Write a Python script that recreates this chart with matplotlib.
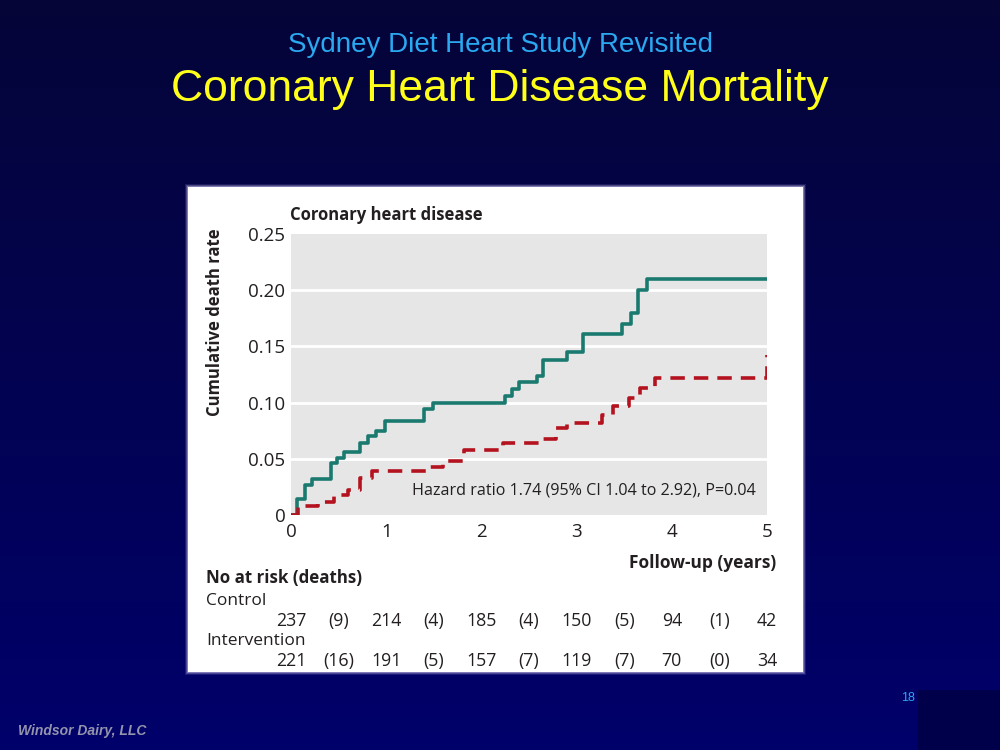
import numpy as np
import matplotlib.pyplot as plt
from matplotlib.patches import Rectangle
from matplotlib.transforms import blended_transform_factory

# data
ctrl_t = [0, 0.06, 0.15, 0.22, 0.42, 0.48, 0.56, 0.72, 0.81, 0.89, 0.99, 1.40, 1.49,
          2.25, 2.32, 2.40, 2.58, 2.65, 2.90, 3.07, 3.48, 3.57, 3.65, 3.74, 5.0]
ctrl_y = [0, 0.014, 0.027, 0.032, 0.046, 0.051, 0.056, 0.064, 0.070, 0.075, 0.084, 0.094, 0.100,
          0.106, 0.112, 0.118, 0.124, 0.138, 0.145, 0.161, 0.170, 0.180, 0.200, 0.210, 0.210]
int_t = [0, 0.07, 0.28, 0.45, 0.60, 0.72, 0.85, 1.45, 1.60, 1.82, 2.23, 2.64, 2.78, 2.90,
         3.27, 3.38, 3.55, 3.67, 3.82, 5.0, 5.0]
int_y = [0, 0.008, 0.012, 0.018, 0.022, 0.033, 0.039, 0.043, 0.048, 0.058, 0.064, 0.068, 0.077, 0.082,
         0.089, 0.097, 0.104, 0.113, 0.122, 0.122, 0.142]

yticks = [0, 0.05, 0.10, 0.15, 0.20, 0.25]
ytick_labels = ['0', '0.05', '0.10', '0.15', '0.20', '0.25']
xticks = [0, 1, 2, 3, 4, 5]

risk_x = [0, 0.5, 1, 1.5, 2, 2.5, 3, 3.5, 4, 4.5, 5]
control_row = ['237', '(9)', '214', '(4)', '185', '(4)', '150', '(5)', '94', '(1)', '42']
interv_row = ['221', '(16)', '191', '(5)', '157', '(7)', '119', '(7)', '70', '(0)', '34']

FONT = 'Open Sans'
TXT = '#231f20'

fig = plt.figure(figsize=(10, 7.5), dpi=100)

#### background in pixel coords
bg = fig.add_axes([0, 0, 1, 1])
bg.set_xlim(0, 1000)
bg.set_ylim(750, 0)
bg.axis('off')
grad = np.linspace(0, 1, 256).reshape(-1, 1)
top = np.array([0.02, 0.02, 0.22])
bot = np.array([0.0, 0.0, 0.42])
img = top + grad[..., None] * (bot - top)
img = np.repeat(img, 2, axis=1)
bg.imshow(img, extent=[0, 1000, 750, 0], aspect='auto', zorder=0)

# glow + white panel
for i, a in enumerate([0.15, 0.3, 0.5]):
    pad = 3 - i
    bg.add_patch(Rectangle((188 - pad, 187 - pad), 615 + 2 * pad, 485 + 2 * pad,
                           facecolor='#b8b0e0', alpha=a, edgecolor='none', zorder=1))
bg.add_patch(Rectangle((188, 187), 615, 485, facecolor='white', edgecolor='none', zorder=2))

# titles
bg.text(500, 45, 'Sydney Diet Heart Study Revisited', color='#2aa8f0', fontsize=20,
        family='Liberation Sans', ha='center', va='center', zorder=3)
bg.text(500, 90, 'Coronary Heart Disease Mortality', color='#ffff1a', fontsize=32,
        family='Liberation Sans', ha='center', va='center', zorder=3)

# footer
bg.text(18, 731, 'Windsor Dairy, LLC', color='#9494ac', fontsize=10, style='italic',
        weight='bold', family='Liberation Sans', ha='left', va='center', zorder=3)
bg.text(908, 698, '18', color='#2aa8f0', fontsize=9, family='Liberation Sans',
        ha='center', va='center', zorder=3)
bg.add_patch(Rectangle((918, 690), 82, 60, facecolor='#00004a', edgecolor='none', zorder=3))

#### main plot
ax = fig.add_axes([0.291, 1 - 515 / 750, 0.476, (515 - 234) / 750])
ax.set_facecolor('#e6e6e6')
for s in ax.spines.values():
    s.set_visible(False)
ax.set_xlim(0, 5)
ax.set_ylim(0, 0.25)
for g in yticks[1:-1]:
    ax.axhline(g, color='white', lw=2, zorder=1)

ax.step(ctrl_t, ctrl_y, where='post', color='#1b7a70', lw=2.6, zorder=3)
ax.step(int_t, int_y, where='post', color='#b3121e', lw=2.6, ls=(0, (4, 2.5)), zorder=3)

ax.set_yticks(yticks)
ax.set_yticklabels(ytick_labels)
ax.set_xticks(xticks)
ax.set_xticklabels([str(x) for x in xticks])
ax.tick_params(length=0, labelsize=13.5, colors=TXT)
ax.tick_params(axis='x', pad=6)
ax.tick_params(axis='y', pad=4)
for lab in ax.get_xticklabels() + ax.get_yticklabels():
    lab.set_family(FONT)

ax.text(4.88, 0.022, 'Hazard ratio 1.74 (95% CI 1.04 to 2.92), P=0.04', ha='right', va='center',
        fontsize=11.6, family=FONT, color=TXT)

#### labels and risk table (figure pixels)
bg.text(290, 215, 'Coronary heart disease', fontsize=12, weight='bold', family=FONT,
        color=TXT, ha='left', va='center', zorder=3)
bg.text(215, 322, 'Cumulative death rate', fontsize=12, weight='bold', family=FONT,
        color=TXT, ha='center', va='center', rotation=90, zorder=3)
bg.text(776, 563, 'Follow-up (years)', fontsize=12.5, weight='bold', family=FONT,
        color=TXT, ha='right', va='center', zorder=3)
bg.text(206, 578, 'No at risk (deaths)', fontsize=12.2, weight='bold', family=FONT,
        color=TXT, ha='left', va='center', zorder=3)
bg.text(206, 601, 'Control', fontsize=12.5, family=FONT, color=TXT, ha='left', va='center', zorder=3)
bg.text(206, 641, 'Intervention', fontsize=12.5, family=FONT, color=TXT, ha='left', va='center', zorder=3)

tr = blended_transform_factory(ax.transData, bg.transData)
for x, c, i in zip(risk_x, control_row, interv_row):
    bg.text(x, 621, c, transform=tr, fontsize=12.8, family=FONT, color=TXT,
            ha='center', va='center', zorder=3)
    bg.text(x, 661, i, transform=tr, fontsize=12.8, family=FONT, color=TXT,
            ha='center', va='center', zorder=3)

plt.savefig('out.png', dpi=100)
